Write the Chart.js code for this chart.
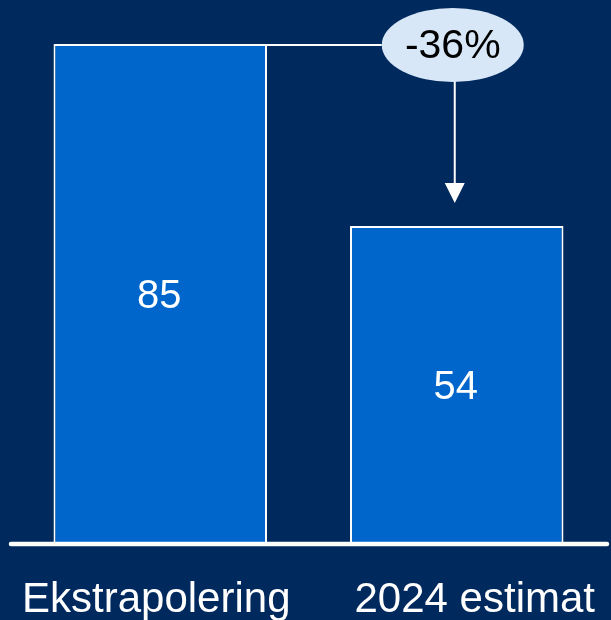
<!DOCTYPE html>
<html>
<head>
<meta charset="utf-8">
<script src="https://cdn.jsdelivr.net/npm/chart.js@4/dist/chart.umd.min.js"></script>
<style>
  html, body { margin: 0; padding: 0; background: #00295E; }
  #wrap { width: 611px; height: 620px; }
</style>
</head>
<body>
<div id="wrap"><canvas id="c" width="611" height="620"></canvas></div>
<script>
const categories = ['Ekstrapolering', '2024 estimat'];
const values = [85, 54];
const changeLabel = '-36%';

const FONT = '"Liberation Sans", Arial, Helvetica, sans-serif';
const BG = '#00295E';

// Background, baseline, value labels, category labels and the change callout
const decorations = {
  id: 'decorations',
  beforeDraw(chart) {
    const { ctx } = chart;
    ctx.save();
    ctx.fillStyle = BG;
    ctx.fillRect(0, 0, chart.width, chart.height);
    ctx.restore();
  },
  afterDatasetsDraw(chart) {
    const { ctx, chartArea } = chart;
    const bars = chart.getDatasetMeta(0).data;
    const xScale = chart.scales.x;
    ctx.save();

    // baseline
    ctx.strokeStyle = '#ffffff';
    ctx.lineWidth = 4.5;
    ctx.lineCap = 'round';
    ctx.beginPath();
    ctx.moveTo(chartArea.left - 1, chartArea.bottom + 1);
    ctx.lineTo(chartArea.right + 2, chartArea.bottom + 1);
    ctx.stroke();

    // values inside bars
    ctx.fillStyle = '#ffffff';
    ctx.font = '40px ' + FONT;
    ctx.textAlign = 'center';
    ctx.textBaseline = 'middle';
    bars.forEach((b, i) => {
      const p = b.getProps(['x', 'y', 'base'], true);
      ctx.fillText(String(values[i]), p.x - 1, (p.y + p.base) / 2 + 3);
    });

    // category labels
    ctx.font = '42px ' + FONT;
    ctx.textBaseline = 'alphabetic';
    const labelShift = [-4, 18];
    categories.forEach((c, i) => {
      ctx.fillText(c, xScale.getPixelForValue(i) + labelShift[i], chartArea.bottom + 69);
    });

    // change callout
    const b0 = bars[0].getProps(['x', 'y', 'width'], true);
    const b1 = bars[1].getProps(['x', 'y', 'width'], true);
    const cx = b1.x - 4;
    const cy = b0.y + 1;
    const rx = 71, ry = 37;

    ctx.strokeStyle = '#ffffff';
    ctx.lineWidth = 2;
    ctx.lineCap = 'butt';
    ctx.beginPath();
    ctx.moveTo(b0.x + 31, b0.y + 1);
    ctx.lineTo(cx - rx, b0.y + 1);
    ctx.stroke();

    // arrow down to second bar
    const ax = cx + 2;
    const tip = b1.y - 23;
    ctx.beginPath();
    ctx.moveTo(ax, cy + ry - 1);
    ctx.lineTo(ax, tip - 18);
    ctx.stroke();
    ctx.fillStyle = '#ffffff';
    ctx.beginPath();
    ctx.moveTo(ax - 10, tip - 20);
    ctx.lineTo(ax + 10, tip - 20);
    ctx.lineTo(ax, tip);
    ctx.closePath();
    ctx.fill();

    // ellipse
    ctx.fillStyle = '#D7E7F8';
    ctx.beginPath();
    ctx.ellipse(cx, cy, rx, ry, 0, 0, Math.PI * 2);
    ctx.fill();
    ctx.fillStyle = '#000000';
    ctx.font = '41px ' + FONT;
    ctx.textBaseline = 'middle';
    ctx.fillText(changeLabel, cx, cy + 2);

    ctx.restore();
  }
};

new Chart(document.getElementById('c'), {
  type: 'bar',
  data: {
    labels: categories,
    datasets: [{
      data: values,
      backgroundColor: '#0066CC',
      borderColor: '#ffffff',
      borderWidth: { top: 2, left: 2, right: 2, bottom: 0 },
      borderSkipped: 'start',
      barPercentage: 0.72,
      categoryPercentage: 1
    }]
  },
  options: {
    responsive: false,
    animation: false,
    devicePixelRatio: 1,
    layout: { padding: { top: 44, left: 12, right: 6, bottom: 77 } },
    plugins: { legend: { display: false }, tooltip: { enabled: false } },
    scales: {
      x: {
        display: false,
        grid: { display: false }
      },
      y: {
        display: false,
        min: 0,
        max: 85,
        grid: { display: false }
      }
    }
  },
  plugins: [decorations]
});
</script>
</body>
</html>
